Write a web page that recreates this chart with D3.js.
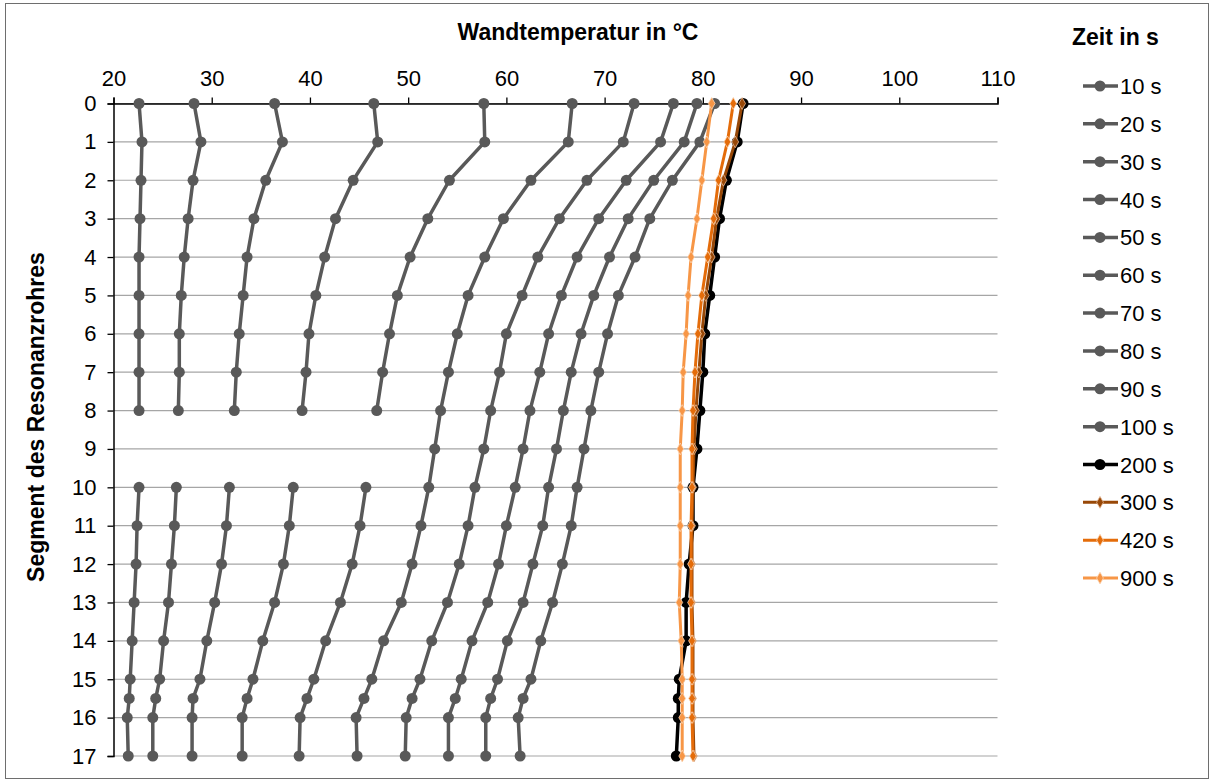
<!DOCTYPE html>
<html>
<head>
<meta charset="utf-8">
<script src="https://cdn.jsdelivr.net/npm/d3@7"></script>
<style>
  body { margin: 0; background: #fff; }
  text { font-family: "Liberation Sans", Arial, sans-serif; fill: #000; }
</style>
</head>
<body>
<svg id="chart"></svg>
<script>
const width = 1213, height = 783;

// segment positions along the tube (15.5 is an extra measuring point)
const segments = [0, 1, 2, 3, 4, 5, 6, 7, 8, 9, 10, 11, 12, 13, 14, 15, 15.5, 16, 17];
const yTicks = d3.range(0, 18);
const xTicks = [20, 30, 40, 50, 60, 70, 80, 90, 100, 110];

const timeLabels = ["10 s", "20 s", "30 s", "40 s", "50 s", "60 s", "70 s", "80 s", "90 s", "100 s",
  "200 s", "300 s", "420 s", "900 s"];

// wall temperature in °C per segment, null = no value
const t10 = [22.6, 22.9, 22.8, 22.7, 22.6, 22.6, 22.6, 22.6, 22.6, null, 22.6, 22.4, 22.3, 22.1, 21.9, 21.7, 21.6, 21.4, 21.5];
const t20 = [28.2, 28.9, 28.1, 27.6, 27.2, 26.9, 26.7, 26.7, 26.6, null, 26.4, 26.2, 25.9, 25.6, 25.1, 24.7, 24.3, 24.0, 24.0];
const t30 = [36.4, 37.2, 35.5, 34.3, 33.6, 33.2, 32.8, 32.5, 32.3, null, 31.8, 31.5, 31.0, 30.3, 29.5, 28.8, 28.1, 28.0, 28.0];
const t40 = [46.5, 46.9, 44.4, 42.6, 41.5, 40.6, 39.9, 39.6, 39.2, null, 38.3, 37.9, 37.3, 36.4, 35.2, 34.2, 33.6, 33.1, 33.1];
const t50 = [57.7, 57.8, 54.2, 52.0, 50.2, 48.9, 48.1, 47.4, 46.8, null, 45.7, 45.1, 44.3, 43.1, 41.6, 40.4, 39.7, 39.0, 38.9];
const t60 = [66.7, 66.3, 62.5, 59.7, 57.8, 56.1, 55.0, 54.1, 53.3, 52.7, 52.1, 51.3, 50.4, 49.3, 47.5, 46.3, 45.5, 44.7, 44.8];
const t70 = [73.0, 71.9, 68.2, 65.4, 63.2, 61.6, 60.0, 59.3, 58.4, 57.7, 56.8, 56.1, 55.2, 54.0, 52.4, 51.2, 50.4, 49.8, 49.7];
const t80 = [77.0, 75.7, 72.2, 69.4, 67.2, 65.6, 64.3, 63.4, 62.4, 61.7, 60.9, 60.0, 59.2, 58.1, 56.5, 55.4, 54.8, 54.1, 54.1];
const t90 = [79.4, 78.1, 75.0, 72.4, 70.5, 68.9, 67.6, 66.6, 65.8, 65.1, 64.3, 63.7, 62.7, 61.7, 60.1, 59.1, 58.4, 57.9, 57.9];
const t100 = [81.2, 79.7, 76.9, 74.6, 73.1, 71.4, 70.3, 69.4, 68.6, 67.9, 67.2, 66.6, 65.7, 64.7, 63.5, 62.5, 61.7, 61.2, 61.4];
const t200 = [84.1, 83.5, 82.4, 81.7, 81.2, 80.7, 80.2, 80.0, 79.7, 79.4, 79.0, 79.0, 78.6, 78.3, 78.3, 77.6, 77.5, 77.5, 77.3];
const t300 = [84.0, 83.3, 82.1, 81.4, 80.9, 80.3, 79.9, 79.6, 79.3, 79.1, 79.0, 78.9, 78.9, 78.9, 79.0, 79.0, 79.0, 79.0, 79.1];
const t420 = [83.1, 82.5, 81.6, 81.1, 80.5, 79.9, 79.5, 79.2, 79.0, 78.9, 78.9, 78.8, 78.8, 78.8, 78.9, 78.9, 78.9, 78.9, 79.0];
const t900 = [80.9, 80.4, 79.9, 79.4, 78.8, 78.5, 78.3, 78.0, 77.9, 77.7, 77.7, 77.7, 77.7, 77.6, 77.8, 77.9, 77.9, 77.9, 77.9];

const seriesValues = [t10, t20, t30, t40, t50, t60, t70, t80, t90, t100, t200, t300, t420, t900];

const grey = "#595959";
const styles = timeLabels.map((lab, i) => {
  if (i < 10) return { color: grey, marker: "circle", width: 3.5 };
  if (i === 10) return { color: "#000000", marker: "circle", width: 3.5 };
  if (i === 11) return { color: "#984807", marker: "diamond", width: 3, edge: "#e6b894" };
  if (i === 12) return { color: "#e46c0a", marker: "diamond", width: 3, edge: "#fbd5b5" };
  return { color: "#f79646", marker: "diamond", width: 3, edge: "#fbd5b5" };
});

const svg = d3.select("#chart").attr("width", width).attr("height", height);

svg.append("rect")
  .attr("x", 5.5).attr("y", 3.5)
  .attr("width", 1203).attr("height", 775)
  .attr("fill", "#fff").attr("stroke", "#6e6e6e");

const x = d3.scaleLinear().domain([20, 110]).range([113.5, 997.5]);
const y = d3.scaleLinear().domain([0, 17]).range([103.5, 756]);

// horizontal grid lines
svg.append("g")
  .selectAll("line")
  .data(yTicks)
  .join("line")
  .attr("x1", x(20)).attr("x2", x(110))
  .attr("y1", d => y(d)).attr("y2", d => y(d))
  .attr("stroke", "#a6a6a6").attr("stroke-width", 1.2);

// top axis
const xAxis = svg.append("g")
  .attr("transform", `translate(0,${y(0)})`)
  .call(d3.axisTop(x).tickValues(xTicks).tickSize(6).tickPadding(12));
xAxis.select(".domain").attr("stroke", "#000").attr("stroke-width", 1.5);
xAxis.selectAll(".tick line").attr("stroke", "#000").attr("stroke-width", 1.3);
xAxis.selectAll("text").style("font-size", "22px").attr("fill", "#000");

// left axis
const yAxis = svg.append("g")
  .attr("transform", `translate(${x(20)},0)`)
  .call(d3.axisLeft(y).tickValues(yTicks).tickSize(6).tickPadding(11));
yAxis.select(".domain").attr("stroke", "#000").attr("stroke-width", 1.5);
yAxis.selectAll(".tick line").attr("stroke", "#000").attr("stroke-width", 1.3);
yAxis.selectAll("text").style("font-size", "22px").attr("fill", "#000");

svg.append("text")
  .attr("x", 578).attr("y", 40)
  .attr("text-anchor", "middle")
  .style("font-size", "23px").style("font-weight", "bold")
  .text("Wandtemperatur in °C");

svg.append("text")
  .attr("transform", `translate(44,417) rotate(-90)`)
  .attr("text-anchor", "middle")
  .style("font-size", "23px").style("font-weight", "bold")
  .text("Segment des Resonanzrohres");

const line = d3.line()
  .defined(d => d.v != null)
  .x(d => x(d.v))
  .y(d => y(d.s));

const diamond = d3.symbol().type(d3.symbolDiamond).size(40);

function drawMarker(sel, st, px, py) {
  if (st.marker === "circle") {
    sel.append("circle").attr("cx", px).attr("cy", py).attr("r", 5.5).attr("fill", st.color);
  } else {
    sel.append("path").attr("d", diamond)
      .attr("transform", `translate(${px},${py})`)
      .attr("fill", st.color).attr("stroke", st.edge).attr("stroke-width", 0.8);
  }
}

const plot = svg.append("g");
seriesValues.forEach((vals, i) => {
  const st = styles[i];
  const pts = segments.map((s, j) => ({ s: s, v: vals[j] }));
  const g = plot.append("g");
  g.append("path")
    .attr("d", line(pts))
    .attr("fill", "none")
    .attr("stroke", st.color)
    .attr("stroke-width", st.width)
    .attr("stroke-linejoin", "round");
  pts.filter(d => d.v != null).forEach(d => drawMarker(g, st, x(d.v), y(d.s)));
});

// legend
svg.append("text")
  .attr("x", 1072).attr("y", 45)
  .style("font-size", "23px").style("font-weight", "bold")
  .text("Zeit in s");

const legend = svg.append("g");
timeLabels.forEach((lab, i) => {
  const st = styles[i];
  const ly = 86 + i * 37.85;
  const g = legend.append("g");
  g.append("line")
    .attr("x1", 1083).attr("x2", 1118)
    .attr("y1", ly).attr("y2", ly)
    .attr("stroke", st.color).attr("stroke-width", st.width);
  drawMarker(g, st, 1100, ly);
  g.append("text")
    .attr("x", 1120).attr("y", ly + 8)
    .style("font-size", "22px")
    .text(lab);
});
</script>
</body>
</html>
